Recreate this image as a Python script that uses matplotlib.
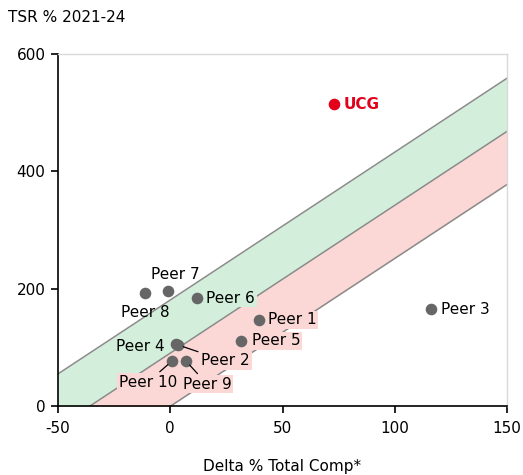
import matplotlib
matplotlib.use("Agg")
import matplotlib.pyplot as plt
import numpy as np

# Data
names = ["UCG", "Peer 1", "Peer 2", "Peer 3", "Peer 4", "Peer 5",
         "Peer 6", "Peer 7", "Peer 8", "Peer 9", "Peer 10"]
delta_comp = [72.9, 39.5, 3.5, 116.1, 2.5, 31.5, 11.9, -1.0, -11.3, 7.0, 0.8]
tsr = [514.7, 146.6, 104.0, 165.0, 106.0, 110.8, 184.0, 196.0, 192.6, 76.7, 76.7]

# Band lines: TSR = slope * delta + intercept
band_slope = 2.52
band_intercepts = [180.7, 90.1, -0.5]  # upper, middle, lower

x_ticks = [-50, 0, 50, 100, 150]
y_ticks = [0, 200, 400, 600]

GREEN = "#d3efdb"
PINK = "#fbd8d5"
DOT = "#666666"
RED = "#e2001a"
LINE = "#8a8a8a"

fig = plt.figure(figsize=(5.23, 4.75), dpi=100)
ax = fig.add_axes([58/523, 1-406/475, (507-58)/523, (406-54)/475])

xs = np.linspace(-50, 150, 200)
up, mid, low = [band_slope*xs + b for b in band_intercepts]
ax.fill_between(xs, mid, up, color=GREEN, lw=0, zorder=1)
ax.fill_between(xs, low, mid, color=PINK, lw=0, zorder=1)
for l in (up, mid, low):
    ax.plot(xs, l, color=LINE, lw=1.1, zorder=2)

ax.set_xlim(-50, 150)
ax.set_ylim(0, 600)

# labels: (dx px, dy px, ha, bbox color or None, leader line)
label_cfg = {
    "UCG": (10, 0, "left", None, False),
    "Peer 1": (9, 0, "left", PINK, False),
    "Peer 2": (23, -16, "left", PINK, True),
    "Peer 3": (10, 0, "left", None, False),
    "Peer 4": (-11, -3, "right", None, False),
    "Peer 5": (11, 0, "left", PINK, False),
    "Peer 6": (9, 0, "left", GREEN, False),
    "Peer 7": (7, 17, "center", None, False),
    "Peer 8": (0, -19, "center", None, False),
    "Peer 9": (21, -23, "center", PINK, True),
    "Peer 10": (-24, -21, "center", PINK, True),
}

for n, x, y in zip(names, delta_comp, tsr):
    is_ucg = n == "UCG"
    ax.scatter([x], [y], s=70, color=RED if is_ucg else DOT, zorder=5, lw=0)
    dx, dy, ha, bc, leader = label_cfg[n]
    kw = {}
    if bc:
        kw["bbox"] = dict(boxstyle="square,pad=0.12", fc=bc, ec="none")
    if leader:
        kw["arrowprops"] = dict(arrowstyle="-", color="black", lw=0.9,
                                shrinkA=1, shrinkB=4)
    ax.annotate(n, (x, y), xytext=(dx, dy), textcoords="offset pixels",
                ha=ha, va="center", fontsize=11,
                color=RED if is_ucg else "black",
                fontweight="bold" if is_ucg else "normal",
                zorder=6, **kw)

ax.set_xticks(x_ticks)
ax.set_xticklabels([str(v) for v in x_ticks])
ax.set_yticks(y_ticks)
ax.set_yticklabels([str(v) for v in y_ticks])
ax.tick_params(labelsize=11, length=5, width=1.2, colors="black", pad=4)
ax.tick_params(axis="x", pad=6)
for s in ("top", "right"):
    ax.spines[s].set_color("#d9d9d9")
    ax.spines[s].set_linewidth(1)
for s in ("left", "bottom"):
    ax.spines[s].set_color("black")
    ax.spines[s].set_linewidth(1.2)

fig.text(8/523, 1-17/475, "TSR % 2021-24", fontsize=11, ha="left", va="center")
fig.text(282/523, 1-467/475, "Delta % Total Comp*", fontsize=11, ha="center", va="center")

fig.savefig("out.png", dpi=100)
